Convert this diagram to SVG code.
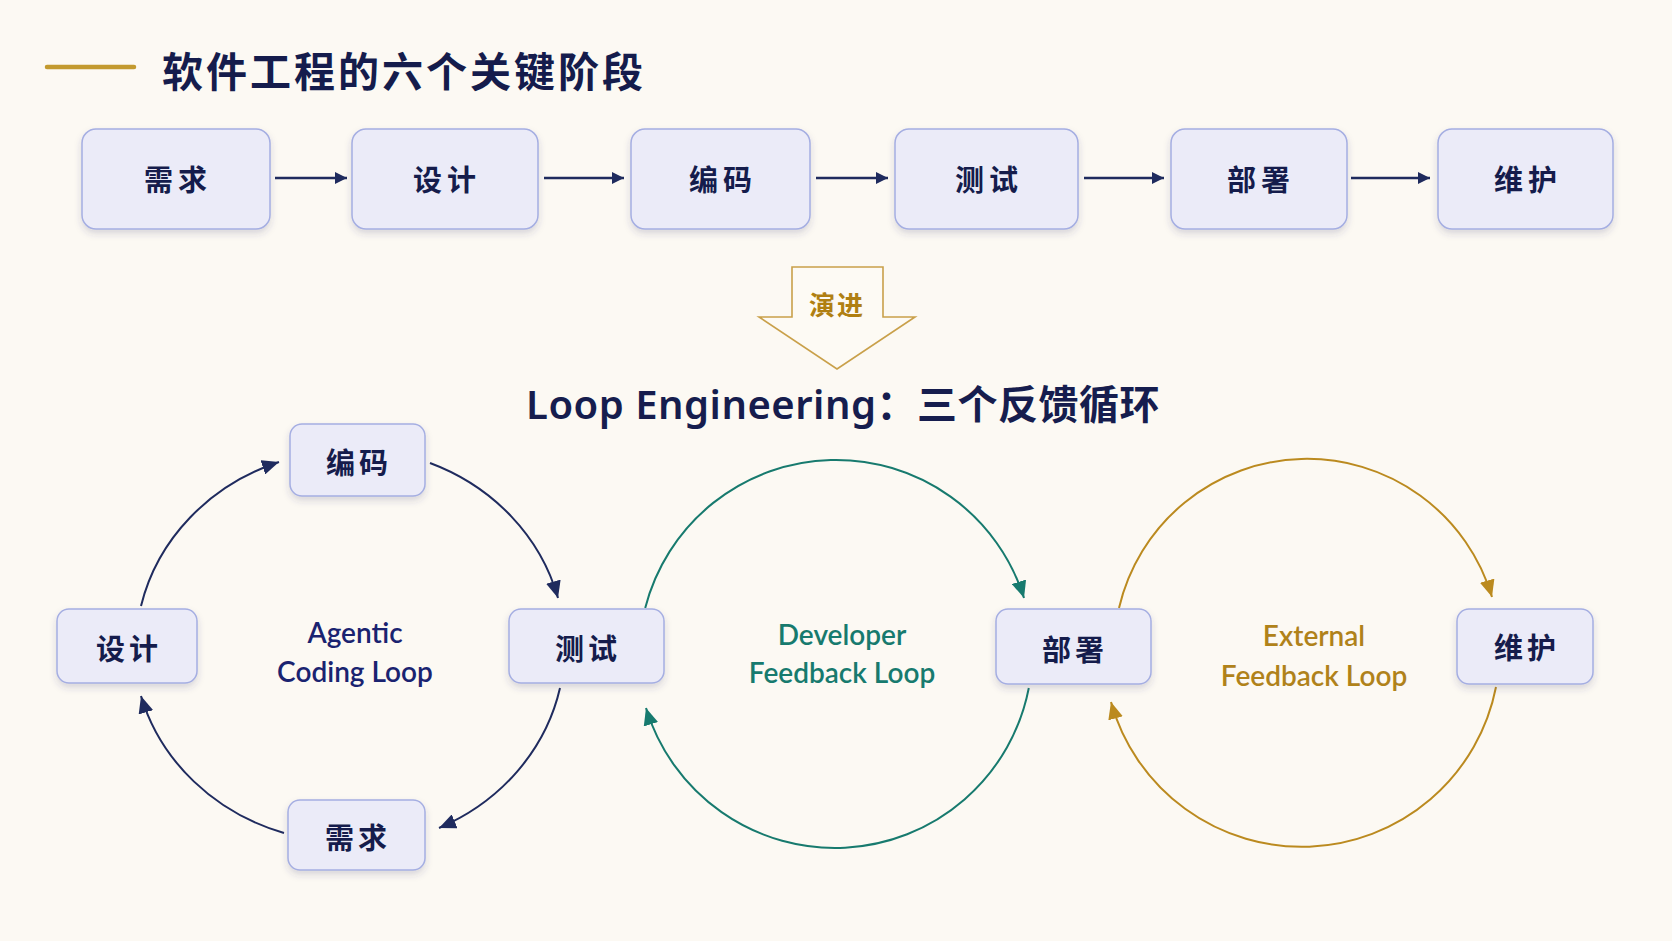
<svg xmlns="http://www.w3.org/2000/svg" width="1672" height="941" viewBox="0 0 1672 941">
  <defs>
    <filter id="shadow" x="-20%" y="-20%" width="140%" height="150%">
      <feDropShadow dx="0" dy="4" stdDeviation="3.5" flood-color="#3a3f6a" flood-opacity="0.18"/>
    </filter>
    <marker id="arrNavySm" markerUnits="userSpaceOnUse" markerWidth="12" markerHeight="12" refX="12" refY="6" orient="auto">
      <path d="M0,0 L12,6 L0,12 z" fill="#1f2b5e"/>
    </marker>
    <marker id="arrNavy" markerUnits="userSpaceOnUse" markerWidth="17" markerHeight="15" refX="17" refY="7.5" orient="auto">
      <path d="M0,0 L17,7.5 L0,15 z" fill="#1f2b5e"/>
    </marker>
    <marker id="arrTeal" markerUnits="userSpaceOnUse" markerWidth="17" markerHeight="15" refX="17" refY="7.5" orient="auto">
      <path d="M0,0 L17,7.5 L0,15 z" fill="#177a6e"/>
    </marker>
    <marker id="arrGold" markerUnits="userSpaceOnUse" markerWidth="17" markerHeight="15" refX="17" refY="7.5" orient="auto">
      <path d="M0,0 L17,7.5 L0,15 z" fill="#bb8a1f"/>
    </marker>
  </defs>
  <style>
    .box { fill: #ebebf8; stroke: #a5aee2; stroke-width: 1.5; filter: url(#shadow); }
    .lbl { font-family: "Noto Sans CJK SC", "Noto Sans", sans-serif; font-weight: 700; fill: #151c4c; text-anchor: middle; dominant-baseline: central; }
    .top { font-size: 29px; letter-spacing: 5px; }
    .low { font-size: 29px; letter-spacing: 4px; }
    .flow { stroke: #1f2b5e; stroke-width: 2.5; fill: none; marker-end: url(#arrNavySm); }
    .navy { stroke: #1f2b5e; stroke-width: 2; fill: none; marker-end: url(#arrNavy); }
    .teal { stroke: #177a6e; stroke-width: 2; fill: none; marker-end: url(#arrTeal); }
    .gold { stroke: #bb8a1f; stroke-width: 2; fill: none; marker-end: url(#arrGold); }
    .loop { font-family: "Lato", "Noto Sans", sans-serif; font-weight: 600; font-size: 28px; text-anchor: middle; }
  </style>
  <rect x="0" y="0" width="1672" height="941" fill="#fcf9f3"/>

  <g id="title">
    <line x1="47" y1="67" x2="134" y2="67" stroke="#c39a2f" stroke-width="4.5" stroke-linecap="round"/>
    <text x="162" y="69" font-family="Noto Sans CJK SC, sans-serif" font-weight="700" font-size="41" letter-spacing="3" fill="#151c4c" dominant-baseline="central">软件工程的六个关键阶段</text>
  </g>

  <g id="top-row">
    <g id="t-req"><rect class="box" x="82" y="129" width="188" height="100" rx="14"/><text class="lbl top" x="178" y="178">需求</text></g>
    <g id="t-design"><rect class="box" x="352" y="129" width="186" height="100" rx="14"/><text class="lbl top" x="447" y="178">设计</text></g>
    <g id="t-code"><rect class="box" x="631" y="129" width="179" height="100" rx="14"/><text class="lbl top" x="723" y="178">编码</text></g>
    <g id="t-test"><rect class="box" x="895" y="129" width="183" height="100" rx="14"/><text class="lbl top" x="989" y="178">测试</text></g>
    <g id="t-deploy"><rect class="box" x="1171" y="129" width="176" height="100" rx="14"/><text class="lbl top" x="1261" y="178">部署</text></g>
    <g id="t-maint"><rect class="box" x="1438" y="129" width="175" height="100" rx="14"/><text class="lbl top" x="1528" y="178">维护</text></g>
  </g>

  <g id="top-connectors">
    <line class="flow" x1="275" y1="178" x2="347" y2="178"/>
    <line class="flow" x1="544" y1="178" x2="624" y2="178"/>
    <line class="flow" x1="816" y1="178" x2="888" y2="178"/>
    <line class="flow" x1="1084" y1="178" x2="1164" y2="178"/>
    <line class="flow" x1="1351" y1="178" x2="1430" y2="178"/>
  </g>

  <g id="evolve">
    <polygon points="792,267 883,267 883,317 915,317 837,369 759,317 792,317" fill="#fdfaf4" stroke="#c9a04a" stroke-width="1.6"/>
    <text x="837" y="303" font-family="Noto Sans CJK SC, sans-serif" font-weight="700" font-size="26" letter-spacing="2" fill="#b07f12" text-anchor="middle" dominant-baseline="central">演进</text>
  </g>

  <g id="heading">
    <text x="843" y="419" font-family="Noto Sans, Noto Sans CJK SC, sans-serif" font-weight="600" font-size="40" letter-spacing="0.5" fill="#161d4e" text-anchor="middle">Loop Engineering：三个反馈循环</text>
  </g>

  <g id="loop-connectors">
    <path class="navy" d="M141,606 A215,200 0 0 1 279,462"/>
    <path class="navy" d="M430,463 A215,200 0 0 1 558,598"/>
    <path class="navy" d="M560,688 A215,200 0 0 1 439,828"/>
    <path class="navy" d="M284,833 A215,200 0 0 1 141,696"/>
    <path class="teal" d="M645.2,608 A197,197 0 0 1 1024,598"/>
    <path class="teal" d="M1028.8,688 A197.5,197.5 0 0 1 646,708"/>
    <path class="gold" d="M1119,608 A193,193 0 0 1 1492,597"/>
    <path class="gold" d="M1496,687 A198,198 0 0 1 1111,702"/>
  </g>

  <g id="l-code"><rect class="box" x="290" y="424" width="135" height="72" rx="12"/><text class="lbl low" x="359" y="461">编码</text></g>
  <g id="l-design"><rect class="box" x="57" y="609" width="140" height="74" rx="12"/><text class="lbl low" x="129" y="647">设计</text></g>
  <g id="l-test"><rect class="box" x="509" y="609" width="155" height="74" rx="12"/><text class="lbl low" x="588" y="647">测试</text></g>
  <g id="l-req"><rect class="box" x="288" y="800" width="137" height="70" rx="12"/><text class="lbl low" x="358" y="836">需求</text></g>
  <g id="l-deploy"><rect class="box" x="996" y="609" width="155" height="75" rx="12"/><text class="lbl low" x="1075" y="648">部署</text></g>
  <g id="l-maint"><rect class="box" x="1457" y="609" width="136" height="75" rx="12"/><text class="lbl low" x="1527" y="646">维护</text></g>

  <g id="loop-labels">
    <text class="loop" fill="#1a2370" font-size="28.5"><tspan x="355" y="643">Agentic</tspan><tspan x="355" y="682">Coding Loop</tspan></text>
    <text class="loop" fill="#177a6e"><tspan x="842" y="645">Developer</tspan><tspan x="842" y="683">Feedback Loop</tspan></text>
    <text class="loop" fill="#b0821a"><tspan x="1314" y="646">External</tspan><tspan x="1314" y="686">Feedback Loop</tspan></text>
  </g>
</svg>
